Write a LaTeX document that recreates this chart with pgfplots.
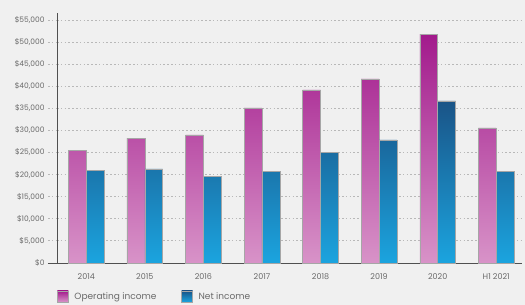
\documentclass[border=0pt]{standalone}
\usepackage{pgfplots}
\pgfplotsset{compat=1.18}
\usepackage{fontspec}
\setmainfont{Poppins}
\definecolor{bg}{HTML}{F0F0F0}
\definecolor{txt}{HTML}{6A6A6A}
\definecolor{gridc}{HTML}{B8B8B8}
\definecolor{axc}{HTML}{505050}
\definecolor{opTop}{HTML}{A21A8C}
\definecolor{opBot}{HTML}{D893C8}
\definecolor{niTop}{HTML}{1A5487}
\definecolor{niBot}{HTML}{1BA4DF}
\begin{document}
\begin{tikzpicture}
\fill[bg] (0pt,0pt) rectangle (525pt,-305pt);
\begin{axis}[
  at={(57pt,-263pt)}, anchor=south west,
  scale only axis, width=465pt, height=250pt,
  xmin=-0.5, xmax=7.44, ymin=0, ymax=56600,
  separate axis lines,
  axis x line*=bottom, axis y line*=left,
  axis line style={draw=axc, line width=0.8pt, -},
  ybar=0pt, bar width=0.305,
  xtick={0,...,7},
  xticklabels={2014,2015,2016,2017,2018,2019,2020,H1 2021},
  x tick style={draw=none},
  extra x ticks={0.5,1.5,...,6.5},
  extra x tick labels={},
  extra x tick style={tick align=center, major tick length=4pt, tick style={draw=axc, line width=0.8pt, solid}, grid=none},
  ytick={5000,10000,...,55000},
  scaled y ticks=false,
  y tick style={draw=gridc, line width=0.9pt, dash pattern=on 1.6pt off 2.2pt},
  tick align=outside, major tick length=9pt,
  ymajorgrids, grid style={draw=gridc, line width=0.9pt, dash pattern=on 1.6pt off 2.2pt},
  extra y ticks={0}, extra y tick style={y tick style={draw=axc, line width=0.8pt, solid}, grid=none},
  extra y tick labels={\$0},
  yticklabel={\$\pgfmathprintnumber{\tick}},
  /pgf/number format/.cd, fixed, 1000 sep={,}, assume math mode=true, /pgfplots/.cd,
  ticklabel style={font=\fontsize{7.5}{9}\selectfont, text=txt},
  xticklabel style={font=\fontsize{8}{9}\selectfont, yshift=2pt, text height=6pt},
  legend columns=2,
  legend style={at={(0,0)}, anchor=north west, yshift=-25pt, xshift=-3pt, draw=none, fill=none,
    font=\fontsize{9}{10}\selectfont, text=txt,
    /tikz/every even column/.append style={column sep=23pt}},
  legend image code/.code={\draw[#1] (0pt,-5.5pt) rectangle (11pt,5.5pt); \node[inner sep=0pt, minimum size=0pt, draw=none, fill=none, shading=none] at (15pt,0pt) {};},
]
\addplot[draw=gray!70, line width=0.5pt, top color=opTop, bottom color=opBot] coordinates {
(0,25500) (1,28300) (2,29000) (3,35100) (4,39200) (5,41700) (6,51800) (7,30600)};
\addplot[draw=gray!70, line width=0.5pt, top color=niTop, bottom color=niBot] coordinates {
(0,21000) (1,21300) (2,19600) (3,20800) (4,25100) (5,27900) (6,36700) (7,20800)};
\legend{Operating income, Net income}
\end{axis}
\end{tikzpicture}
\end{document}
